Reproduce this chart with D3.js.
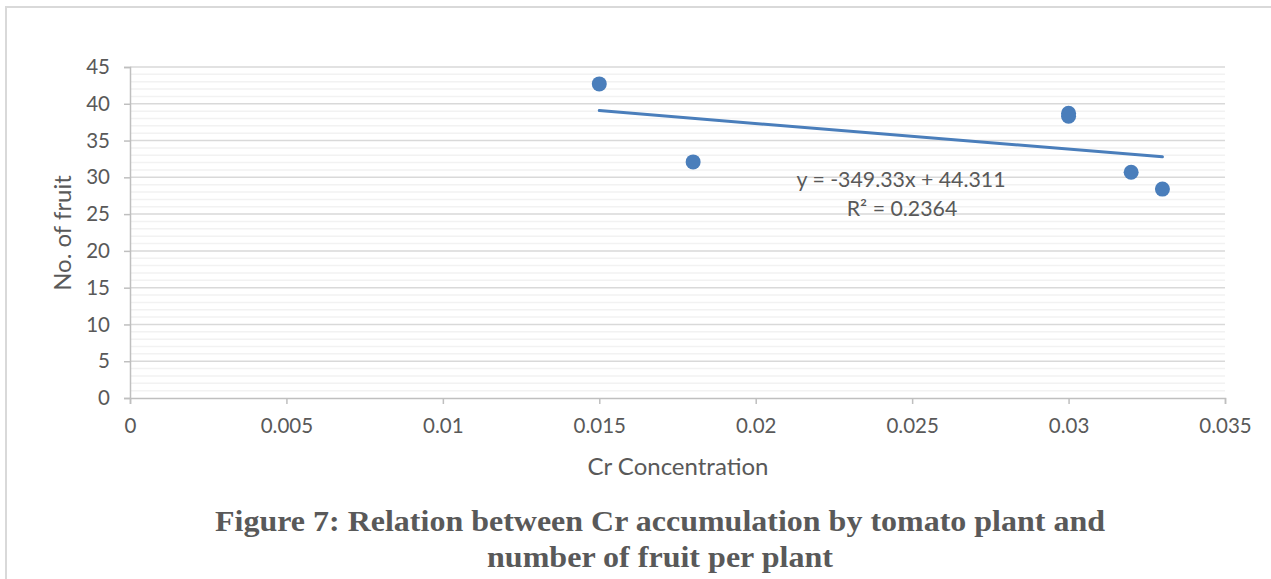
<!DOCTYPE html>
<html>
<head>
<meta charset="utf-8">
<script src="https://cdn.jsdelivr.net/npm/d3@7"></script>
<style>
  body { margin:0; background:#fff; }
  svg { display:block; }
</style>
</head>
<body>
<svg id="chart" width="1271" height="579"></svg>
<script>
// data
var crConc = [0.015, 0.018, 0.030, 0.030, 0.032, 0.033];
var fruitNo = [42.7, 32.1, 38.7, 38.3, 30.7, 28.4];
var xTicks = [0, 0.005, 0.01, 0.015, 0.02, 0.025, 0.03, 0.035];
var yTicks = [0, 5, 10, 15, 20, 25, 30, 35, 40, 45];
var trendSlope = -349.33, trendIntercept = 44.311, trendR2 = 0.2364;

var svg = d3.select("#chart");
var sansFont = "Lato, 'Open Sans', sans-serif";
var grey = "#595959";
var blue = "#4a7ebb";

var marginLeft = 130, marginRight = 1225, marginTop = 67, marginBottom = 398;

var x = d3.scaleLinear().domain([0, 0.035]).range([marginLeft, marginRight]);
var y = d3.scaleLinear().domain([0, 45]).range([marginBottom, marginTop]);

// frame of the chart area
svg.append("path")
    .attr("d", "M6,579 L6,7 L1271,7")
    .attr("fill", "none")
    .attr("stroke", "#d9d9d9")
    .attr("stroke-width", 2);

// minor grid
svg.append("g").selectAll("line")
    .data(d3.range(1, 45).filter(function(d){ return d % 5 != 0; }))
    .enter().append("line")
    .attr("x1", marginLeft).attr("x2", marginRight)
    .attr("y1", function(d){ return y(d); })
    .attr("y2", function(d){ return y(d); })
    .attr("stroke", "#f2f2f2")
    .attr("stroke-width", 1.5);

// major grid
svg.append("g").selectAll("line")
    .data(yTicks.slice(1))
    .enter().append("line")
    .attr("x1", marginLeft).attr("x2", marginRight)
    .attr("y1", function(d){ return y(d); })
    .attr("y2", function(d){ return y(d); })
    .attr("stroke", "#d9d9d9")
    .attr("stroke-width", 1.5);

// axes
var xAxis = svg.append("g")
    .attr("transform", "translate(0," + marginBottom + ")")
    .call(d3.axisBottom(x).tickValues(xTicks).tickSize(6).tickPadding(14)
        .tickFormat(function(d){ return String(+d.toFixed(3)); }));

var yAxis = svg.append("g")
    .attr("transform", "translate(" + marginLeft + ",0)")
    .call(d3.axisLeft(y).tickValues(yTicks).tickSize(6).tickPadding(14));

[xAxis, yAxis].forEach(function(a){
    a.select(".domain").attr("stroke", "#bfbfbf").attr("stroke-width", 1.5);
    a.selectAll(".tick line").attr("stroke", "#bfbfbf").attr("stroke-width", 1.5);
    a.selectAll(".tick text")
        .style("font-family", sansFont)
        .style("font-size", "20.5px")
        .attr("fill", grey);
});

// trendline
var tx = d3.extent(crConc);
svg.append("line")
    .attr("x1", x(tx[0])).attr("y1", y(trendSlope * tx[0] + trendIntercept))
    .attr("x2", x(tx[1])).attr("y2", y(trendSlope * tx[1] + trendIntercept))
    .attr("stroke", blue)
    .attr("stroke-width", 3)
    .attr("stroke-linecap", "round");

// points
svg.append("g").selectAll("circle")
    .data(crConc)
    .enter().append("circle")
    .attr("cx", function(d){ return x(d); })
    .attr("cy", function(d, i){ return y(fruitNo[i]); })
    .attr("r", 7.5)
    .attr("fill", blue);

// trendline label
var eq = svg.append("text")
    .style("font-family", sansFont)
    .style("font-size", "21.3px")
    .attr("fill", grey)
    .attr("text-anchor", "middle");
eq.append("tspan").attr("x", 901).attr("y", 187)
    .text("y = " + trendSlope + "x + " + trendIntercept);
eq.append("tspan").attr("x", 902).attr("y", 216)
    .text("R\u00b2 = " + trendR2);

// axis titles
svg.append("text")
    .attr("x", 678).attr("y", 475)
    .attr("text-anchor", "middle")
    .style("font-family", sansFont)
    .style("font-size", "24px")
    .attr("fill", grey)
    .text("Cr Concentration");

svg.append("text")
    .attr("transform", "translate(71,233) rotate(-90)")
    .attr("text-anchor", "middle")
    .style("font-family", sansFont)
    .style("font-size", "24px")
    .attr("fill", grey)
    .text("No. of fruit");

// figure caption
var caption = ["Figure 7: Relation between Cr accumulation by tomato plant and",
               "number of fruit per plant"];
var capWidths = [890, 346];
svg.append("g").selectAll("text")
    .data(caption)
    .enter().append("text")
    .attr("x", 660)
    .attr("y", function(d, i){ return 531 + i * 36; })
    .attr("text-anchor", "middle")
    .attr("textLength", function(d, i){ return capWidths[i]; })
    .attr("lengthAdjust", "spacingAndGlyphs")
    .style("font-family", "'Liberation Serif', 'Times New Roman', serif")
    .style("font-weight", "bold")
    .style("font-size", "29px")
    .attr("fill", grey)
    .text(function(d){ return d; });
</script>
</body>
</html>
